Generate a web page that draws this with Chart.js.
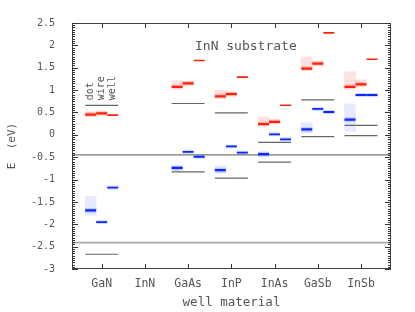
<!doctype html>
<html lang="en">
<head>
<meta charset="UTF-8" />
<title>InN substrate levels</title>
<script src="https://cdn.jsdelivr.net/npm/chart.js"></script>
<style>
  html, body { margin: 0; padding: 0; background: #fff; }
  #wrap { width: 415px; height: 312px; }
</style>
</head>
<body>
<div id="wrap"><canvas id="myChart"></canvas></div>
<script>
// well materials on the x axis
const materials = ['GaN', 'InN', 'GaAs', 'InP', 'InAs', 'GaSb', 'InSb'];
const sizeLabels = ['dot', 'wire', 'well'];

// electron levels (eV)
const cbDot  = [0.45, null, 1.07, 0.86, 0.24, 1.48, 1.07];
const cbWire = [0.48, null, 1.15, 0.91, 0.29, 1.59, 1.13];
const cbWell = [0.44, null, 1.66, 1.29, 0.66, 2.28, 1.69];
const cbDotTop  = [0.52, null, 1.21, 1.00, 0.40, 1.74, 1.41];
const cbWireTop = [0.51, null, 1.19, 0.95, 0.33, 1.65, 1.23];

// hole levels (eV)
const vbDot  = [-1.69, null, -0.74, -0.79, -0.43, 0.12, 0.34];
const vbWire = [-1.95, null, -0.38, -0.26, 0.01, 0.58, 0.89];
const vbWell = [-1.18, null, -0.49, -0.40, -0.10, 0.51, 0.89];
const vbDotTop    = [-1.38, null, -0.69, -0.69, -0.39, 0.27, 0.69];
const vbDotBottom = [-1.80, null, -0.80, -0.86, -0.50, 0.03, 0.08];

// bulk band edges of the well material
const bulkCB = [0.66, null, 0.70, 0.49, -0.17, 0.78, 0.21];
const bulkVB = [-2.67, null, -0.83, -0.97, -0.61, -0.04, -0.02];

// InN substrate band edges
const substrate = [-0.45, -2.41];

const SHIFT = { dot: -0.255, wire: 0, well: 0.255 };
const HALF = 0.127;

function segments(vals, shift, half) {
  const pts = [];
  vals.forEach((v, i) => {
    if (v === null) return;
    const c = i + 1 + shift;
    pts.push({ x: c - half, y: v }, { x: c + half, y: v }, { x: c + half, y: null });
  });
  return pts;
}

function ranges(lo, hi, shift) {
  const pts = [];
  lo.forEach((v, i) => {
    if (v === null) return;
    pts.push({ x: i + 1 + shift, y: [v, hi[i]] });
  });
  return pts;
}

function line(data, color, width, order) {
  return {
    type: 'line', data: data, borderColor: color, borderWidth: width,
    pointRadius: 0, spanGaps: false, fill: false, order: order
  };
}

function band(data, color) {
  return {
    type: 'bar', data: data, backgroundColor: color, borderWidth: 0,
    barThickness: 11, grouped: false, order: 6
  };
}

const RED = 'rgb(255,32,8)';
const RED_HALO = 'rgba(255,60,40,0.22)';
const PINK = 'rgba(255,70,70,0.16)';
const BLUE = 'rgb(10,40,255)';
const BLUE_HALO = 'rgba(40,70,255,0.2)';
const LBLUE = 'rgba(60,80,255,0.12)';

const datasets = [
  band(ranges(cbDot, cbDotTop, SHIFT.dot), PINK),
  band(ranges(cbWire, cbWireTop, SHIFT.wire), PINK),
  band(ranges(vbDotBottom, vbDotTop, SHIFT.dot), LBLUE),

  line(segments(bulkCB, 0, 3 * HALF), '#666', 1.2, 3),
  line(segments(bulkVB, 0, 3 * HALF), '#666', 1.2, 3),

  line(segments(cbDot, SHIFT.dot, HALF), RED_HALO, 5, 2),
  line(segments(cbWire, SHIFT.wire, HALF), RED_HALO, 5, 2),
  line(segments(vbDot, SHIFT.dot, HALF), BLUE_HALO, 5, 2),
  line(segments(vbWire, SHIFT.wire, HALF), BLUE_HALO, 4, 2),
  line(segments(vbWell, SHIFT.well, HALF), BLUE_HALO, 4, 2),

  line(segments(cbDot, SHIFT.dot, HALF), RED, 2.2, 1),
  line(segments(cbWire, SHIFT.wire, HALF), RED, 2.2, 1),
  line(segments(cbWell, SHIFT.well, HALF), RED, 1.6, 1),
  line(segments(vbDot, SHIFT.dot, HALF), BLUE, 2.2, 1),
  line(segments(vbWire, SHIFT.wire, HALF), BLUE, 1.8, 1),
  line(segments(vbWell, SHIFT.well, HALF), BLUE, 1.8, 1)
];

const MONO = '"DejaVu Sans Mono", "Liberation Mono", monospace';
const TEXT = '#555';

const decor = {
  id: 'decor',
  beforeDatasetsDraw(chart) {
    const { ctx, chartArea: a, scales: { y } } = chart;
    ctx.save();
    const cols = ['#777', '#aaa'];
    const widths = [1.2, 1.6];
    substrate.forEach((v, k) => {
      const py = y.getPixelForValue(v);
      ctx.strokeStyle = cols[k];
      ctx.lineWidth = widths[k];
      ctx.beginPath();
      ctx.moveTo(a.left, py);
      ctx.lineTo(a.right, py);
      ctx.stroke();
    });
    ctx.restore();
  },
  afterDraw(chart) {
    const { ctx, chartArea: a, scales: { x, y } } = chart;
    ctx.save();
    // frame
    ctx.strokeStyle = '#444';
    ctx.lineWidth = 1;
    ctx.strokeRect(a.left + 0.5, a.top + 0.5, a.right - a.left - 1, a.bottom - a.top - 1);

    // inward ticks on left and right
    ctx.strokeStyle = '#333';
    for (let i = -60; i <= 50; i++) {
      const py = Math.round(y.getPixelForValue(i / 20)) + 0.5;
      const len = i % 10 === 0 ? 6 : 3;
      ctx.beginPath();
      ctx.moveTo(a.left, py); ctx.lineTo(a.left + len, py);
      ctx.moveTo(a.right, py); ctx.lineTo(a.right - len, py);
      ctx.stroke();
    }
    // inward ticks on top and bottom
    materials.forEach((m, i) => {
      const px = Math.round(x.getPixelForValue(i + 1)) + 0.5;
      ctx.beginPath();
      ctx.moveTo(px, a.top); ctx.lineTo(px, a.top + 5);
      ctx.moveTo(px, a.bottom); ctx.lineTo(px, a.bottom - 5);
      ctx.stroke();
    });

    // dot / wire / well labels above the GaN group
    ctx.fillStyle = TEXT;
    ctx.font = '10px ' + MONO;
    ctx.textAlign = 'left';
    ctx.textBaseline = 'middle';
    const baseY = y.getPixelForValue(bulkCB[0]) - 5;
    sizeLabels.forEach((t, k) => {
      const px = x.getPixelForValue(1 + SHIFT[t]);
      ctx.save();
      ctx.translate(px, baseY);
      ctx.rotate(-Math.PI / 2);
      ctx.fillText(t, 0, 0);
      ctx.restore();
    });

    // plot title inside the frame
    ctx.font = '13px ' + MONO;
    ctx.textAlign = 'center';
    ctx.fillText('InN substrate', a.left + 0.545 * (a.right - a.left), a.top + 24);
    ctx.restore();
  }
};

const ctx = document.getElementById('myChart');

new Chart(ctx, {
  type: 'line',
  data: { datasets: datasets },
  options: {
    responsive: true,
    maintainAspectRatio: false,
    animation: false,
    events: [],
    layout: { padding: { left: 0, right: 24, top: 17, bottom: 0 } },
    plugins: {
      legend: { display: false },
      tooltip: { enabled: false },
      title: { display: false }
    },
    scales: {
      x: {
        type: 'linear',
        offset: false,
        min: 0.313,
        max: 7.694,
        grid: { display: false, drawTicks: false, offset: false },
        border: { display: false },
        afterBuildTicks: s => { s.ticks = materials.map((m, i) => ({ value: i + 1 })); },
        afterFit: s => { s.height = 43; },
        ticks: {
          autoSkip: false,
          maxRotation: 0,
          padding: 8,
          color: TEXT,
          font: { family: MONO, size: 11.5 },
          callback: v => materials[v - 1] || ''
        },
        title: {
          display: true,
          text: 'well material',
          color: TEXT,
          font: { family: MONO, size: 12.5 },
          padding: { top: 0, bottom: 2 }
        }
      },
      y: {
        min: -3,
        max: 2.5,
        grid: { display: false, drawTicks: false },
        border: { display: false },
        afterFit: s => { s.width = 72; },
        ticks: {
          stepSize: 0.5,
          padding: 17,
          color: TEXT,
          font: { family: MONO, size: 10 },
          callback: v => String(v)
        },
        title: {
          display: true,
          text: 'E  (eV)',
          color: TEXT,
          font: { family: MONO, size: 11 },
          padding: { top: 6, bottom: 0 }
        }
      }
    }
  },
  plugins: [decor]
});
</script>
</body>
</html>
